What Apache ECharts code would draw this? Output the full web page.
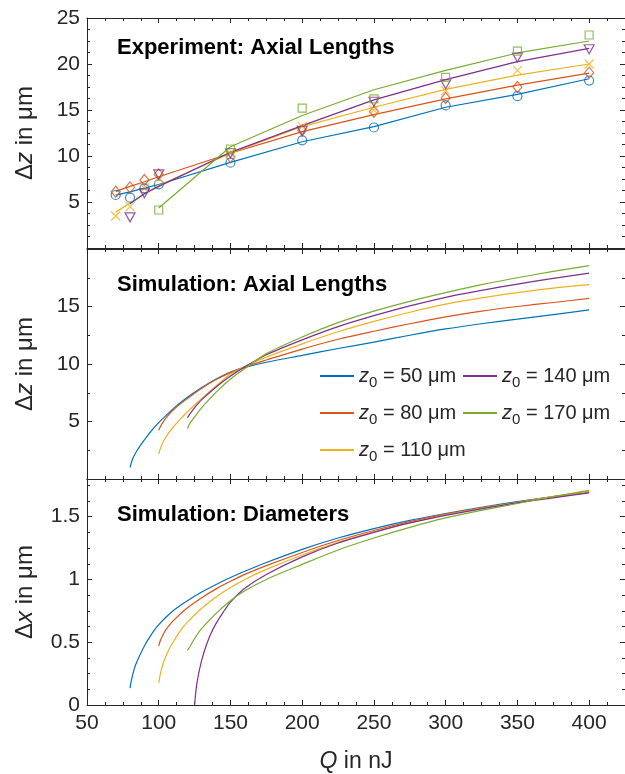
<!DOCTYPE html>
<html>
<head>
<meta charset="utf-8">
<script src="https://cdn.jsdelivr.net/npm/echarts@6/dist/echarts.min.js"></script>
<style>
  html, body { margin: 0; padding: 0; background: #fff; }
  #chart { width: 625px; height: 774px; }
</style>
</head>
<body>
<div id="chart"></div>
<script>
// z0 values and MATLAB default colours
const z0Labels = ['50', '80', '110', '140', '170'];
const colors = ['#0072BD', '#D95319', '#EDB120', '#7E2F8E', '#77AC30'];

// Experiment: measured points (markers) and fit (lines), Q in nJ, dz in um
const qExp = [70, 80, 90, 100, 150, 200, 250, 300, 350, 400];
const expZ50 = [5.76, 5.47, 6.49, 6.92, 9.27, 11.7, 13.1, 15.5, 16.5, 18.2];
const expZ80 = [6.12, 6.59, 7.39, 8.0, 9.9, 12.8, 14.8, 16.3, 17.5, 19.06];
const expZ110 = [3.48, 4.5, 6.5, 7.6, 10.3, 13.2, 15.0, 17.1, 19.3, 20.0];
const expZ140 = [null, 3.33, 5.94, 8.0, 10.3, 12.75, 15.9, 17.8, 20.7, 21.6];
const expZ170 = [null, null, null, 4.13, 10.76, 15.2, 16.2, 18.55, 21.4, 23.15];
const fitZ50 = [5.75, 6.1, 6.5, 6.9, 9.3, 11.55, 13.2, 15.3, 16.7, 18.4];
const fitZ80 = [6.15, 6.7, 7.2, 7.75, 10.3, 12.65, 14.5, 16.2, 17.7, 19.0];
const fitZ110 = [3.9, 4.9, 5.9, 6.8, 10.3, 13.2, 15.3, 17.25, 18.8, 20.0];
const fitZ140 = [null, 4.8, 5.9, 6.7, 10.4, 13.3, 16.1, 18.3, 20.25, 21.7];
const fitZ170 = [null, null, null, 4.35, 11.0, 14.4, 17.2, 19.3, 21.2, 22.5];

// Simulation: axial lengths
const simQ50 = [80, 82, 85, 90, 95, 100, 110, 120, 130, 140, 150, 160, 175, 200, 225, 250, 275, 300, 325, 350, 375, 400];
const simZ50 = [1.0, 1.8, 2.5, 3.4, 4.2, 4.9, 6.1, 7.1, 7.95, 8.7, 9.3, 9.7, 10.15, 10.75, 11.35, 11.9, 12.5, 13.05, 13.5, 13.9, 14.3, 14.7];
const simQ80 = [100, 102, 105, 110, 120, 130, 140, 150, 160, 175, 200, 225, 250, 275, 300, 325, 350, 375, 400];
const simZ80 = [4.24, 4.75, 5.3, 6.0, 7.0, 7.9, 8.65, 9.25, 9.75, 10.35, 11.3, 12.15, 12.85, 13.5, 14.1, 14.6, 15.0, 15.35, 15.7];
const simQ110 = [100, 101, 103, 105, 110, 115, 120, 130, 140, 150, 160, 175, 200, 225, 250, 275, 300, 325, 350, 375, 400];
const simZ110 = [2.16, 2.6, 3.2, 3.65, 4.5, 5.2, 5.85, 7.0, 8.1, 9.1, 9.8, 10.6, 11.75, 12.8, 13.7, 14.5, 15.2, 15.75, 16.2, 16.6, 16.9];
const simQ140 = [120, 122, 125, 130, 140, 150, 160, 175, 200, 225, 250, 275, 300, 325, 350, 375, 400];
const simZ140 = [5.34, 5.7, 6.2, 6.9, 8.0, 8.95, 9.75, 10.8, 12.1, 13.25, 14.2, 15.05, 15.8, 16.4, 16.95, 17.45, 17.9];
const simQ170 = [120, 122, 125, 130, 140, 150, 160, 175, 200, 225, 250, 275, 300, 325, 350, 375, 400];
const simZ170 = [4.4, 4.9, 5.4, 6.2, 7.55, 8.7, 9.6, 10.9, 12.35, 13.6, 14.6, 15.45, 16.2, 16.9, 17.5, 18.05, 18.55];

// Simulation: diameters
const diaQ50 = [80, 81, 83, 85, 90, 95, 100, 110, 120, 130, 140, 150, 160, 175, 200, 225, 250, 275, 300, 325, 350, 375, 400];
const diaX50 = [0.135, 0.2, 0.29, 0.35, 0.47, 0.565, 0.64, 0.75, 0.83, 0.9, 0.96, 1.015, 1.065, 1.135, 1.24, 1.33, 1.405, 1.47, 1.525, 1.575, 1.62, 1.66, 1.695];
const diaQ80 = [100, 101, 103, 105, 110, 120, 130, 140, 150, 160, 175, 200, 225, 250, 275, 300, 325, 350, 375, 400];
const diaX80 = [0.47, 0.51, 0.56, 0.6, 0.67, 0.775, 0.855, 0.925, 0.985, 1.04, 1.11, 1.215, 1.31, 1.39, 1.46, 1.52, 1.57, 1.615, 1.66, 1.70];
const diaQ110 = [100, 101, 102, 104, 107, 110, 115, 120, 130, 140, 150, 160, 175, 200, 225, 250, 275, 300, 325, 350, 375, 400];
const diaX110 = [0.175, 0.24, 0.29, 0.36, 0.44, 0.5, 0.59, 0.66, 0.77, 0.86, 0.935, 1.0, 1.08, 1.195, 1.295, 1.38, 1.45, 1.515, 1.567, 1.613, 1.66, 1.70];
const diaQ140 = [125, 126, 127, 128, 130, 133, 136, 140, 145, 150, 160, 175, 200, 225, 250, 275, 300, 325, 350, 375, 400];
const diaX140 = [0, 0.12, 0.2, 0.26, 0.36, 0.47, 0.56, 0.65, 0.74, 0.82, 0.93, 1.04, 1.18, 1.29, 1.375, 1.45, 1.51, 1.562, 1.61, 1.65, 1.69];
const diaQ170 = [120, 122, 125, 130, 140, 150, 160, 175, 200, 225, 250, 275, 300, 325, 350, 375, 400];
const diaX170 = [0.435, 0.47, 0.53, 0.61, 0.73, 0.83, 0.91, 1.0, 1.12, 1.235, 1.33, 1.415, 1.49, 1.55, 1.605, 1.66, 1.71];

const FONT = 'Liberation Sans, Arial, Helvetica, sans-serif';
const INK = '#262626';

const zip = (xs, ys) => xs.map((x, i) => [x, ys[i]]).filter((p) => p[1] != null);

const gridTops = [18, 249, 479];
const gridHeights = [230, 230, 230];

const yCfg = [
  { min: 0, max: 25, interval: 5, minor: 4, showMin: false, showMax: true, name: 'Δ{i|z} in μm' },
  { min: 0, max: 20, interval: 5, minor: 2, showMin: false, showMax: false, name: 'Δ{i|z} in μm' },
  { min: 0, max: 1.8, interval: 0.5, minor: 4, showMin: true, showMax: false, name: 'Δ{i|x} in μm' },
];

const lineStyle = { color: INK, width: 1 };
const tickStyle = { inside: true, length: 5, lineStyle: { color: INK, width: 1 } };
const minorStyle = { show: true, length: 3, lineStyle: { color: INK, width: 1 } };

const grids = [];
const xAxes = [];
const yAxes = [];
gridTops.forEach((top, i) => {
  grids.push({ left: 87, right: -4, top: top, height: gridHeights[i] });
  ['bottom', 'top'].forEach((pos) => {
    const labelled = pos === 'bottom' && i === 2;
    xAxes.push({
      gridIndex: i,
      type: 'value',
      position: pos,
      min: 50,
      max: 425,
      interval: 50,
      name: labelled ? '{i|Q} in nJ' : '',
      nameLocation: 'middle',
      nameGap: 45,
      nameTextStyle: { fontFamily: FONT, fontSize: 23, color: INK, rich: { i: { fontFamily: FONT, fontSize: 23, fontStyle: 'italic', color: INK } } },
      axisLine: { show: true, onZero: false, lineStyle },
      axisTick: tickStyle,
      minorTick: Object.assign({ splitNumber: 4 }, minorStyle),
      splitLine: { show: false },
      axisLabel: { show: labelled, fontFamily: FONT, fontSize: 21, color: INK, margin: 8, showMaxLabel: false },
    });
  });
  const c = yCfg[i];
  ['left', 'right'].forEach((pos) => {
    const labelled = pos === 'left';
    yAxes.push({
      gridIndex: i,
      type: 'value',
      position: pos,
      min: c.min,
      max: c.max,
      interval: c.interval,
      name: labelled ? c.name : '',
      nameLocation: 'middle',
      nameGap: 50,
      nameTextStyle: { fontFamily: FONT, fontSize: 24, color: INK, rich: { i: { fontFamily: FONT, fontSize: 24, fontStyle: 'italic', color: INK } } },
      axisLine: { show: true, onZero: false, lineStyle },
      axisTick: tickStyle,
      minorTick: Object.assign({ splitNumber: c.minor }, minorStyle),
      splitLine: { show: false },
      axisLabel: { show: labelled, fontFamily: FONT, fontSize: 21, color: INK, margin: 7, showMinLabel: c.showMin, showMaxLabel: c.showMax },
    });
  });
});

const series = [];

// panel 2 curves first so the legend takes its icons from them
const simSets = [[simQ50, simZ50], [simQ80, simZ80], [simQ110, simZ110], [simQ140, simZ140], [simQ170, simZ170]];
simSets.forEach((s, k) => {
  series.push({
    name: z0Labels[k], type: 'line', xAxisIndex: 2, yAxisIndex: 2,
    data: zip(s[0], s[1]), symbol: 'none', smooth: 0.3,
    lineStyle: { color: colors[k], width: 1.2 }, itemStyle: { color: colors[k] },
  });
});

const diaSets = [[diaQ50, diaX50], [diaQ80, diaX80], [diaQ110, diaX110], [diaQ140, diaX140], [diaQ170, diaX170]];
diaSets.forEach((s, k) => {
  series.push({
    name: 'dia' + z0Labels[k], type: 'line', xAxisIndex: 4, yAxisIndex: 4,
    data: zip(s[0], s[1]), symbol: 'none', smooth: 0.3,
    lineStyle: { color: colors[k], width: 1.2 },
  });
});

const fitSets = [fitZ50, fitZ80, fitZ110, fitZ140, fitZ170];
fitSets.forEach((f, k) => {
  series.push({
    name: 'fit' + z0Labels[k], type: 'line', xAxisIndex: 0, yAxisIndex: 0,
    data: zip(qExp, f), symbol: 'none',
    lineStyle: { color: colors[k], width: 1.2 },
  });
});

const markers = [
  { symbol: 'circle', size: 9 },
  { symbol: 'diamond', size: [9, 11] },
  { symbol: 'path://M0,0L10,10M0,10L10,0', size: 9 },
  { symbol: 'path://M0,0L10,0L5,8.7Z', size: [10, 9] },
  { symbol: 'rect', size: 8 },
];
const expSets = [expZ50, expZ80, expZ110, expZ140, expZ170];
expSets.forEach((e, k) => {
  series.push({
    name: 'exp' + z0Labels[k], type: 'scatter', xAxisIndex: 0, yAxisIndex: 0,
    data: zip(qExp, e), symbol: markers[k].symbol, symbolSize: markers[k].size,
    itemStyle: { color: 'rgba(0,0,0,0)', borderColor: colors[k], borderWidth: 1.2 },
    z: 3,
  });
});

const legendText = {
  fontFamily: FONT, fontSize: 20, color: INK,
  rich: {
    i: { fontFamily: FONT, fontSize: 20, fontStyle: 'italic', color: INK },
    s: { fontFamily: FONT, fontSize: 15, color: INK, padding: [13, 0, 0, 0] },
    t: { fontFamily: FONT, fontSize: 20, color: INK },
  },
};
const legendFmt = (name) => '{i|z}{s|0}{t| = ' + name + ' μm}';
const legendBase = {
  orient: 'vertical', itemWidth: 34, itemHeight: 2, itemGap: 13,
  icon: 'rect', textStyle: legendText, formatter: legendFmt, padding: 0,
};

const titleStyle = { font: 'bold 22px ' + FONT, fill: '#000' };

const chart = echarts.init(document.getElementById('chart'));
chart.setOption({
  animation: false,
  backgroundColor: '#fff',
  grid: grids,
  xAxis: xAxes,
  yAxis: yAxes,
  legend: [
    Object.assign({ left: 320, top: 366, data: ['50', '80', '110'] }, legendBase),
    Object.assign({ left: 463, top: 366, data: ['140', '170'] }, legendBase),
  ],
  graphic: [
    { type: 'text', left: 117, top: 37, style: Object.assign({ text: 'Experiment: Axial Lengths' }, titleStyle) },
    { type: 'text', left: 117, top: 274, style: Object.assign({ text: 'Simulation: Axial Lengths' }, titleStyle) },
    { type: 'text', left: 117, top: 504, style: Object.assign({ text: 'Simulation: Diameters' }, titleStyle) },
  ],
  series: series,
});
</script>
</body>
</html>
